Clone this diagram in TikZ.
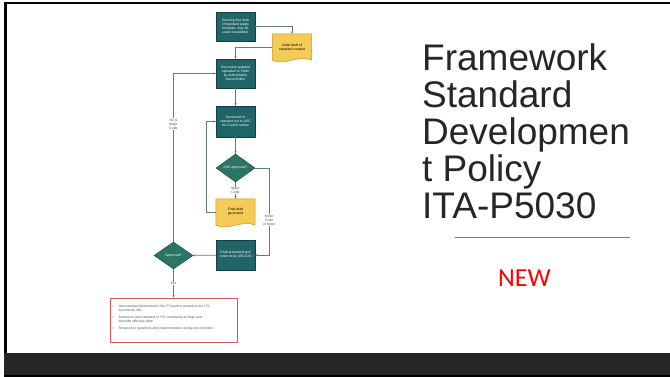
\documentclass[tikz,border=0pt]{standalone}
\usepackage{fontspec}
\setmainfont{Liberation Sans}
\newfontfamily\calibrifont{Carlito}
\usetikzlibrary{shapes.geometric, arrows.meta, backgrounds}

\definecolor{boxteal}{HTML}{1F6466}
\definecolor{boxedge}{HTML}{123F41}
\definecolor{diateal}{HTML}{2B7565}
\definecolor{docyellow}{HTML}{F4CB57}
\definecolor{docedge}{HTML}{C99A1E}
\definecolor{flowgrey}{HTML}{5F7F7F}
\definecolor{titlegrey}{HTML}{262626}
\definecolor{bandgrey}{HTML}{262626}
\definecolor{boxred}{HTML}{DA5A5A}

\begin{document}
\begin{tikzpicture}[x = 1pt, y = -1pt,
        tiny/.style = {font = \fontsize{3.4}{4.1}\selectfont},
        stepbox/.style = {tiny, draw = boxedge, fill = boxteal, text = white,
            minimum width = 39pt, minimum height = 29pt, inner sep = 1pt, align = center},
        decision/.style = {tiny, diamond, draw = boxedge, fill = diateal, text = white,
            minimum width = 39pt, minimum height = 28pt, inner sep = 0pt, aspect = 1.4},
        docnode/.style = {tiny, minimum width = 39pt, minimum height = 26pt,
            inner sep = 1pt, align = center},
        docshape/.style = {draw = docedge, fill = docyellow, line width = 0.5pt},
        flow/.style = {draw = flowgrey, line width = 0.8pt, -{Stealth[length = 2.6pt, width = 2.4pt]}},
        flowlabel/.style = {tiny, fill = white, text = black!70, align = center, inner sep = 0.6pt}]
    \useasboundingbox (0, 0) rectangle (670, 377);

    % flowchart
    \node[stepbox] at (235.5, 26.5) (draft) {Develop first draft\\of standard (apply\\template; may be\\used if available)};
    \node[docnode] at (292, 47) (initial) {Initial draft of\\standard created};
    \node[stepbox] at (235.5, 73.5) (update) {Document updated\\uploaded to TWiki\\by Authoritative\\Owner/Editor};
    \node[stepbox, minimum height = 31pt] at (235.5, 121.5) (review) {Send draft of\\standard out to ASC\\for 2-week review};
    \node[decision] at (235.5, 168) (ascok) {ASC approved?};
    \node[docnode] at (235.5, 212) (final) {Final draft\\generated};
    \node[stepbox, minimum height = 30pt] at (235.5, 255) (vote) {Draft presented and\\voted on by ASC/CIO};
    \node[decision, minimum height = 27pt] at (173.5, 255.5) (approved) {Approved?};
    \node[draw = boxred, line width = 0.8pt, minimum width = 127pt, minimum height = 44pt,
        inner sep = 0pt] at (173.5, 320) (actions) {};
    \node[tiny, text = black!65, anchor = north west] at (109, 301) (actionlist) {%
        \begin{tabular}{@{}l@{\hspace{5pt}}l@{}}
            \textbullet & New standard presented to the IT board or posted to the ITS\\
                        & documents site\\[2.6pt]
            \textbullet & Announce new standard to ITS community at large and\\
                        & describe effective date\\[2.6pt]
            \textbullet & Respond to questions and implementation during pre-transition
        \end{tabular}};

    \begin{pgfonlayer}{background}
        \fill[white] (0, 0) rectangle (670, 377);
        \draw[docshape] (initial.north west) -- (initial.north east) -- (initial.south east)
            .. controls +(-12, -6) and +(12, 6) .. (initial.south west) -- cycle;
        \draw[docshape] (final.north west) -- (final.north east) -- (final.south east)
            .. controls +(-12, -6) and +(12, 6) .. (final.south west) -- cycle;
    \end{pgfonlayer}

    \draw[flow] (draft) -| (initial);
    \draw[flow] (initial) -| (update);
    \draw[flow] (update) -- (review);
    \draw[flow] (review) -- (ascok);
    \draw[flow] (ascok) -- node[flowlabel] {Major\\Code} (final);
    \draw[flow] (final.west) -- ++(-9, 0) |- (review.west);
    \draw[flow] (ascok.east) -- ++(14, 0) |- node[flowlabel, pos = 0.3] {Minor\\Code\\or None} (vote.east);
    \draw[flow] (vote) -- (approved);
    \draw[flow] (approved.north) |- node[flowlabel, pos = 0.35] {No \&\\Major\\Code} (update.west);
    \draw[flow] (approved) -- node[flowlabel] {Yes} (actions);

    % title side
    \node[anchor = north west, inner sep = 0pt, align = left, text = titlegrey,
        font = \fontsize{37}{37}\selectfont] at (422, 43) (title)
        {Framework\\Standard\\Developmen\\t Policy\\ITA-P5030};
    \draw[black!50, line width = 0.9pt] (455, 237) -- (630, 237);
    \node[anchor = base west, inner sep = 0pt, text = red,
        font = \calibrifont\fontsize{26}{30}\selectfont] at (498, 286) (newtag) {NEW};

    % frame and footer band
    \fill[black] (4, 2) rectangle (670, 4.5);
    \fill[black] (4, 2) rectangle (7, 377);
    \fill[bandgrey] (4, 353) rectangle (670, 375);
    \fill[black] (4, 375) rectangle (670, 377);
\end{tikzpicture}
\end{document}
